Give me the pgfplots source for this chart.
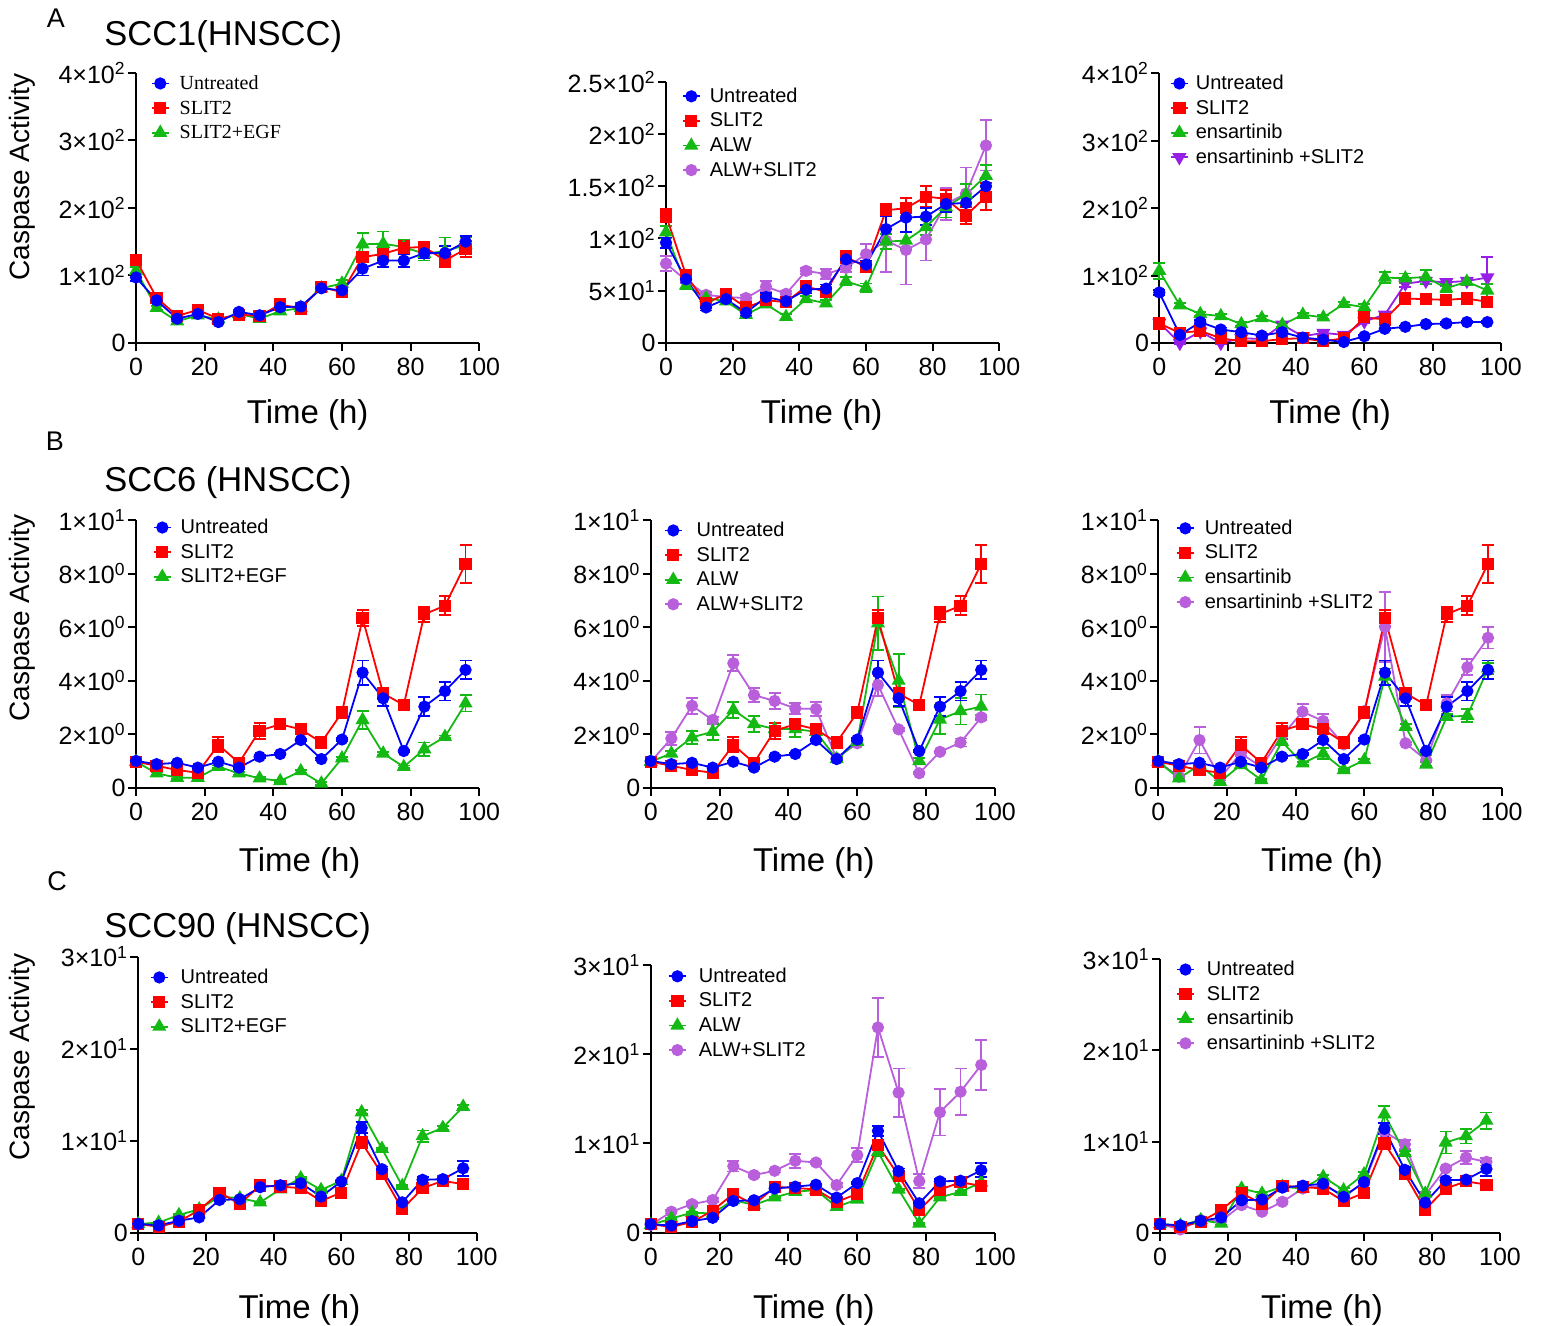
\documentclass[border=0pt]{standalone}
\usepackage{fontspec}
\setmainfont{Liberation Sans}
\newfontfamily\serifleg{Liberation Serif}
\usepackage{pgfplots}
\usepackage{pgfplotstable}
\pgfplotsset{compat=1.18}
\definecolor{cB}{RGB}{0,0,255}
\definecolor{cR}{RGB}{255,0,0}
\definecolor{cG}{RGB}{20,185,20}
\definecolor{cP}{RGB}{185,95,220}
\definecolor{cV}{RGB}{150,30,230}
\newcommand{\sci}[2]{#1×10\textsuperscript{#2}}

\pgfplotsset{
 gp/.style={
  scale only axis, anchor=south west,
  axis lines=left, axis line style={-, line width=1pt},
  every tick/.style={black, line width=1pt}, major tick length=4pt, tick align=outside,
  xmin=0, xmax=100, xtick={0,20,...,100}, ymin=0, enlargelimits=false, clip=false,
  /pgf/number format/assume math mode=true,
  tick label style={font=\fontsize{12.5}{15}\selectfont},
  yticklabel style={inner sep=1pt},
  xlabel={Time (h)},
  xlabel style={font=\fontsize{16.5}{19}\selectfont, at={(axis description cs:0.5,0)}, anchor=center, yshift=-36pt},
  legend style={draw=none, fill=none, anchor=north west, font=\fontsize{10}{12}\selectfont,
    inner sep=0pt, row sep=3.3pt, column sep=5.5pt,
    nodes={inner sep=0pt, text height=7.5pt, text depth=1.5pt}},
  legend cell align=left,
  legend image code/.code={\draw[mark repeat=2,mark phase=2] plot coordinates {(0cm,0cm)(0.15cm,0cm)(0.3cm,0cm)};},
  reverse legend,
 },
 eb/.style={/pgfplots/error bars/y dir=both, /pgfplots/error bars/y explicit,
   /pgfplots/error bars/error bar style={line width=0.9pt},
   /pgfplots/error bars/error mark options={line width=0.9pt, mark size=3pt, rotate=90}},
 pU/.style={color=cB, line width=0.9pt, mark=*, mark size=2.6pt, mark options={solid}, eb},
 pS/.style={color=cR, line width=0.9pt, mark=square*, mark size=2.6pt, mark options={solid}, eb},
 pG/.style={color=cG, line width=0.9pt, mark=triangle*, mark size=3.2pt, mark options={solid}, eb},
 pP/.style={color=cP, line width=0.9pt, mark=*, mark size=2.6pt, mark options={solid}, eb},
 pV/.style={color=cV, line width=0.9pt, mark=triangle*, mark size=3.2pt, mark options={solid, rotate=180}, eb},
}

% ---------- Row A ----------
\pgfplotstableread{
t u ue s se g ge
0 97 5 123 5 107 5
6 63 3 67 3 52 3
12 36 3 40 3 32 3
18 43 3 49 3 41 3
24 31 3 36 3 35 3
30 46 3 42 3 43 3
36 41 3 40 3 36 3
42 53 3 57 4 47 3
48 54 3 51 3 52 3
54 81 4 83 4 81 4
60 78 4 75 5 88 5
66 110 10 127 8 146 17
72 122 10 132 10 147 18
78 122 10 141 10 142 10
84 133 8 142 8 132 10
90 133 10 122 10 136 20
96 150 8 139 12 145 12
}\dAa
\pgfplotstableread{
t u ue s se g ge p pe
0 96 5 122 6 106 6 76 7
6 61 3 65 4 55 3 60 3
12 34 3 38 3 43 3 46 3
18 42 3 47 3 40 3 44 3
24 29 3 34 3 27 3 43 3
30 44 4 41 3 37 3 54 5
36 40 3 39 3 25 3 47 3
42 51 3 54 4 42 3 69 3
48 52 4 49 4 38 3 66 5
54 80 6 82 6 59 4 72 4
60 75 4 73 4 53 4 85 10
66 109 12 127 6 97 7 98 30
72 120 14 129 10 98 8 89 33
78 121 8 140 10 111 8 99 20
84 133 8 138 8 130 10 133 15
90 134 8 122 8 142 10 143 25
96 150 8 140 13 160 10 189 24
}\dAb
\pgfplotstableread{
t u ue s se g ge p pe
0 75 4 29 3 107 12 30 3
6 12 3 15 3 56 3 0 2
12 31 3 18 3 43 3 17 3
18 20 3 7 3 40 3 0 2
24 16 2 2.5 2 28 3 7 2
30 11 2 2.5 2 37 3 6 2
36 16 2 6 2 27 3 27 3
42 8 2 7 2 42 3 10 2
48 5 2 2.5 2 38 3 15 3
54 1.5 2 7 2 58 3 12 3
60 10 2 38 3 53 5 32 3
66 21 2 35 3 97 8 42 4
72 24 2 66 4 96 7 88 5
78 28 2 65 4 98 10 92 5
84 29 2 64 4 81 6 90 5
90 31 2 66 4 91 5 92 5
96 31 2 61 4 78 10 97 30
}\dAc

% ---------- Row B ----------
\pgfplotstableread{
t u ue s se
0 1.00 0.05 0.97 0.05
6 0.88 0.05 0.82 0.05
12 0.93 0.05 0.66 0.05
18 0.75 0.05 0.56 0.05
24 0.97 0.05 1.60 0.28
30 0.75 0.05 0.93 0.05
36 1.16 0.05 2.13 0.30
42 1.26 0.05 2.37 0.08
48 1.78 0.05 2.18 0.08
54 1.07 0.05 1.69 0.08
60 1.80 0.05 2.81 0.08
66 4.30 0.45 6.33 0.30
72 3.34 0.30 3.52 0.15
78 1.37 0.05 3.09 0.08
84 3.03 0.35 6.48 0.28
90 3.61 0.35 6.80 0.35
96 4.40 0.35 8.36 0.72
}\dBc
\pgfplotstableread{
t g ge
0 0.97 0.05
6 0.54 0.05
12 0.37 0.05
18 0.37 0.05
24 0.78 0.05
30 0.54 0.05
36 0.35 0.05
42 0.25 0.05
48 0.62 0.05
54 0.16 0.05
60 1.10 0.05
66 2.53 0.35
72 1.28 0.05
78 0.78 0.05
84 1.44 0.25
90 1.90 0.05
96 3.15 0.30
}\dBa
\pgfplotstableread{
t g ge p pe
0 0.97 0.05 0.97 0.05
6 1.28 0.10 1.84 0.25
12 1.88 0.25 3.06 0.30
18 2.09 0.30 2.53 0.10
24 2.90 0.30 4.65 0.30
30 2.38 0.30 3.46 0.25
36 2.19 0.10 3.24 0.30
42 2.19 0.30 2.96 0.20
48 2.09 0.10 2.94 0.25
54 1.07 0.10 1.10 0.05
60 1.72 0.10 1.66 0.05
66 6.14 1.00 3.84 0.40
72 4.00 1.00 2.18 0.05
78 1.00 0.10 0.54 0.05
84 2.55 0.55 1.34 0.05
90 2.86 0.50 1.69 0.15
96 3.03 0.45 2.63 0.10
}\dBb
\pgfplotstableread{
t g ge p pe
0 0.97 0.05 0.97 0.05
6 0.35 0.05 0.41 0.05
12 0.85 0.05 1.78 0.50
18 0.22 0.05 0.37 0.10
24 0.85 0.05 1.28 0.10
30 0.29 0.05 0.78 0.05
36 1.72 0.10 1.94 0.10
42 0.91 0.05 2.84 0.30
48 1.28 0.20 2.49 0.25
54 0.66 0.05 1.62 0.05
60 1.03 0.05 2.86 0.10
66 4.15 0.30 6.01 1.30
72 2.28 0.10 1.66 0.05
78 0.87 0.10 1.03 0.20
84 2.65 0.10 3.15 0.30
90 2.69 0.25 4.50 0.30
96 4.46 0.20 5.60 0.40
}\dBd

% ---------- Row C ----------
\pgfplotstableread{
t u ue s se
0 0.95 0.1 0.95 0.1
6 0.80 0.1 0.65 0.1
12 1.30 0.1 1.20 0.1
18 1.67 0.1 2.47 0.1
24 3.56 0.1 4.36 0.1
30 3.64 0.1 3.13 0.1
36 4.95 0.1 5.13 0.1
42 5.16 0.1 5.02 0.1
48 5.38 0.1 4.84 0.1
54 3.93 0.1 3.45 0.1
60 5.56 0.1 4.36 0.1
66 11.4 0.6 9.80 0.5
72 6.90 0.3 6.40 0.1
78 3.30 0.1 2.55 0.1
84 5.75 0.3 4.84 0.1
90 5.82 0.3 5.64 0.1
96 7.00 0.8 5.27 0.1
}\dCc
\pgfplotstableread{
t g ge
0 0.95 0.1
6 1.10 0.1
12 1.93 0.1
18 2.55 0.1
24 3.93 0.1
30 3.75 0.1
36 3.30 0.1
42 4.73 0.1
48 5.93 0.1
54 4.65 0.1
60 5.64 0.1
66 13.1 0.2
72 9.13 0.1
78 5.09 0.1
84 10.5 0.6
90 11.4 0.2
96 13.7 0.2
}\dCa
\pgfplotstableread{
t g ge p pe
0 0.86 0.1 0.86 0.1
6 1.60 0.1 2.35 0.2
12 2.24 0.1 3.20 0.2
18 2.16 0.1 3.66 0.2
24 3.66 0.1 7.46 0.6
30 3.10 0.1 6.46 0.2
36 3.96 0.1 6.94 0.2
42 4.59 0.1 8.06 0.8
48 4.78 0.1 7.87 0.2
54 2.90 0.1 5.34 0.2
60 3.73 0.1 8.69 0.8
66 9.07 0.5 23.0 3.3
72 4.85 0.1 15.7 2.7
78 1.04 0.1 5.78 0.8
84 3.96 0.1 13.5 2.6
90 4.59 0.1 15.8 2.6
96 5.63 0.1 18.8 2.8
}\dCb
\pgfplotstableread{
t g ge p pe
0 0.95 0.2 0.95 0.2
6 0.80 0.2 0.36 0.2
12 1.39 0.2 1.39 0.2
18 1.02 0.2 1.31 0.2
24 4.85 0.2 3.03 0.2
30 4.30 0.2 2.30 0.2
36 5.04 0.2 3.39 0.2
42 4.85 0.2 4.85 0.2
48 6.13 0.2 5.22 0.2
54 4.67 0.2 4.12 0.2
60 6.42 0.2 5.40 0.2
66 13.0 0.9 11.1 0.2
72 8.76 0.2 9.70 0.5
78 4.30 0.2 4.12 0.2
84 9.90 1.2 7.04 0.2
90 10.6 0.8 8.25 0.7
96 12.3 0.9 7.77 0.4
}\dCd

\begin{document}
\begin{tikzpicture}[x=1pt,y=1pt]
\useasboundingbox (0,0) rectangle (770.5,-663);

% labels
\node[font=\fontsize{13.5}{16}\selectfont] at (28,-9) {A};
\node[font=\fontsize{13.5}{16}\selectfont] at (27.5,-220.5) {B};
\node[font=\fontsize{13.5}{16}\selectfont] at (28.5,-440.5) {C};
\node[font=\fontsize{17.25}{20}\selectfont, anchor=west, inner sep=0pt] at (52,-18.5) {SCC1(HNSCC)};
\node[font=\fontsize{17.25}{20}\selectfont, anchor=west, inner sep=0pt] at (52,-241.5) {SCC6 (HNSCC)};
\node[font=\fontsize{17.25}{20}\selectfont, anchor=west, inner sep=0pt] at (52,-464.5) {SCC90 (HNSCC)};
\node[rotate=90, font=\fontsize{14}{16}\selectfont] at (11,-88.5) {Caspase Activity};
\node[rotate=90, font=\fontsize{14}{16}\selectfont] at (11,-309) {Caspase Activity};
\node[rotate=90, font=\fontsize{14}{16}\selectfont] at (11,-528.5) {Caspase Activity};

% ===== A1 =====
\begin{axis}[gp, at={(68pt,-171.5pt)}, width=171.65pt, height=135.15pt,
  ymax=400, ytick={0,100,200,300,400},
  yticklabels={0,{\sci{1}{2}},{\sci{2}{2}},{\sci{3}{2}},{\sci{4}{2}}},
  legend style={at={(axis description cs:0.042,0.995)}, font=\serifleg\fontsize{10}{12}\selectfont, column sep=5pt}]
\addplot[pG] table[x=t,y=g,y error=ge]{\dAa}; \addlegendentry{SLIT2+EGF}
\addplot[pS] table[x=t,y=s,y error=se]{\dAa}; \addlegendentry{SLIT2}
\addplot[pU] table[x=t,y=u,y error=ue]{\dAa}; \addlegendentry{Untreated}
\end{axis}

% ===== A2 =====
\begin{axis}[gp, at={(333pt,-171.5pt)}, width=166.65pt, height=130.65pt,
  ymax=250, ytick={0,50,100,150,200,250},
  yticklabels={0,{\sci{5}{1}},{\sci{1}{2}},{\sci{1.5}{2}},{\sci{2}{2}},{\sci{2.5}{2}}},
  xlabel style={xshift=-5.5pt},
  legend style={at={(axis description cs:0.0465,0.98)}, column sep=4.5pt}]
\addplot[pP] table[x=t,y=p,y error=pe]{\dAb}; \addlegendentry{ALW+SLIT2}
\addplot[pG] table[x=t,y=g,y error=ge]{\dAb}; \addlegendentry{ALW}
\addplot[pS] table[x=t,y=s,y error=se]{\dAb}; \addlegendentry{SLIT2}
\addplot[pU] table[x=t,y=u,y error=ue]{\dAb}; \addlegendentry{Untreated}
\end{axis}

% ===== A3 =====
\begin{axis}[gp, at={(579.65pt,-171.5pt)}, width=170.85pt, height=134.85pt,
  ymax=400, ytick={0,100,200,300,400},
  yticklabels={0,{\sci{1}{2}},{\sci{2}{2}},{\sci{3}{2}},{\sci{4}{2}}},
  legend style={at={(axis description cs:0.030,0.997)}, column sep=3.5pt}]
\addplot[pV] table[x=t,y=p,y error=pe]{\dAc}; \addlegendentry{ensartininb +SLIT2}
\addplot[pG] table[x=t,y=g,y error=ge]{\dAc}; \addlegendentry{ensartinib}
\addplot[pS] table[x=t,y=s,y error=se]{\dAc}; \addlegendentry{SLIT2}
\addplot[pU] table[x=t,y=u,y error=ue]{\dAc}; \addlegendentry{Untreated}
\end{axis}

% ===== B1 =====
\begin{axis}[gp, at={(68pt,-393.85pt)}, width=171.65pt, height=133.85pt,
  ymax=10, ytick={0,2,4,6,8,10},
  yticklabels={0,{\sci{2}{0}},{\sci{4}{0}},{\sci{6}{0}},{\sci{8}{0}},{\sci{1}{1}}},
  xlabel style={xshift=-4pt, yshift=-1.5pt},
  legend style={at={(axis description cs:0.048,1.007)}, column sep=4.5pt}]
\addplot[pG] table[x=t,y=g,y error=ge]{\dBa}; \addlegendentry{SLIT2+EGF}
\addplot[pS] table[x=t,y=s,y error=se]{\dBc}; \addlegendentry{SLIT2}
\addplot[pU] table[x=t,y=u,y error=ue]{\dBc}; \addlegendentry{Untreated}
\end{axis}

% ===== B2 =====
\begin{axis}[gp, at={(325.35pt,-393.85pt)}, width=172.15pt, height=133.85pt,
  ymax=10, ytick={0,2,4,6,8,10},
  yticklabels={0,{\sci{2}{0}},{\sci{4}{0}},{\sci{6}{0}},{\sci{8}{0}},{\sci{1}{1}}},
  xlabel style={xshift=-4.5pt, yshift=-1.5pt},
  legend style={at={(axis description cs:0.037,0.996)}, column sep=7pt}]
\addplot[pP] table[x=t,y=p,y error=pe]{\dBb}; \addlegendentry{ALW+SLIT2}
\addplot[pG] table[x=t,y=g,y error=ge]{\dBb}; \addlegendentry{ALW}
\addplot[pS] table[x=t,y=s,y error=se]{\dBc}; \addlegendentry{SLIT2}
\addplot[pU] table[x=t,y=u,y error=ue]{\dBc}; \addlegendentry{Untreated}
\end{axis}

% ===== B3 =====
\begin{axis}[gp, at={(579.15pt,-393.85pt)}, width=171.7pt, height=133.85pt,
  ymax=10, ytick={0,2,4,6,8,10},
  yticklabels={0,{\sci{2}{0}},{\sci{4}{0}},{\sci{6}{0}},{\sci{8}{0}},{\sci{1}{1}}},
  xlabel style={xshift=-4pt, yshift=-1.5pt},
  legend style={at={(axis description cs:0.050,1.004)}, column sep=5pt}]
\addplot[pP] table[x=t,y=p,y error=pe]{\dBd}; \addlegendentry{ensartininb +SLIT2}
\addplot[pG] table[x=t,y=g,y error=ge]{\dBd}; \addlegendentry{ensartinib}
\addplot[pS] table[x=t,y=s,y error=se]{\dBc}; \addlegendentry{SLIT2}
\addplot[pU] table[x=t,y=u,y error=ue]{\dBc}; \addlegendentry{Untreated}
\end{axis}

% ===== C1 =====
\begin{axis}[gp, at={(69.15pt,-616.35pt)}, width=169.2pt, height=138pt,
  ymax=30, ytick={0,10,20,30},
  yticklabels={0,{\sci{1}{1}},{\sci{2}{1}},{\sci{3}{1}}},
  xlabel style={xshift=-4pt, yshift=-2.5pt},
  legend style={at={(axis description cs:0.033,0.959)}, column sep=6pt}]
\addplot[pG] table[x=t,y=g,y error=ge]{\dCa}; \addlegendentry{SLIT2+EGF}
\addplot[pS] table[x=t,y=s,y error=se]{\dCc}; \addlegendentry{SLIT2}
\addplot[pU] table[x=t,y=u,y error=ue]{\dCc}; \addlegendentry{Untreated}
\end{axis}

% ===== C2 =====
\begin{axis}[gp, at={(325.35pt,-616.35pt)}, width=172.15pt, height=133.85pt,
  ymax=30, ytick={0,10,20,30},
  yticklabels={0,{\sci{1}{1}},{\sci{2}{1}},{\sci{3}{1}}},
  xlabel style={xshift=-4.5pt, yshift=-2.5pt},
  legend style={at={(axis description cs:0.049,0.993)}, column sep=6pt}]
\addplot[pP] table[x=t,y=p,y error=pe]{\dCb}; \addlegendentry{ALW+SLIT2}
\addplot[pG] table[x=t,y=g,y error=ge]{\dCb}; \addlegendentry{ALW}
\addplot[pS] table[x=t,y=s,y error=se]{\dCc}; \addlegendentry{SLIT2}
\addplot[pU] table[x=t,y=u,y error=ue]{\dCc}; \addlegendentry{Untreated}
\end{axis}

% ===== C3 =====
\begin{axis}[gp, at={(580pt,-616.35pt)}, width=170pt, height=136.7pt,
  ymax=30, ytick={0,10,20,30},
  yticklabels={0,{\sci{1}{1}},{\sci{2}{1}},{\sci{3}{1}}},
  xlabel style={xshift=-4pt, yshift=-2.5pt},
  legend style={at={(axis description cs:0.046,0.997)}, column sep=6pt}]
\addplot[pP] table[x=t,y=p,y error=pe]{\dCd}; \addlegendentry{ensartininb +SLIT2}
\addplot[pG] table[x=t,y=g,y error=ge]{\dCd}; \addlegendentry{ensartinib}
\addplot[pS] table[x=t,y=s,y error=se]{\dCc}; \addlegendentry{SLIT2}
\addplot[pU] table[x=t,y=u,y error=ue]{\dCc}; \addlegendentry{Untreated}
\end{axis}
\end{tikzpicture}
\end{document}
